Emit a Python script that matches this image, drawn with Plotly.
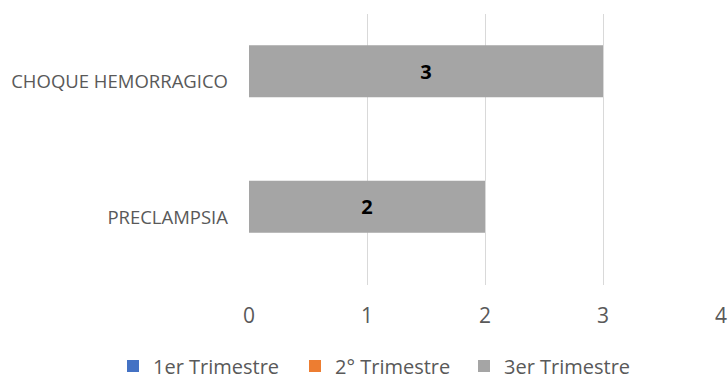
import plotly.graph_objects as go

categories = ["PRECLAMPSIA", "CHOQUE HEMORRAGICO"]
series_names = ["1er Trimestre", "2° Trimestre", "3er Trimestre"]
trim1 = [0, 0]
trim2 = [0, 0]
trim3 = [2, 3]
colors = ["#4472C4", "#ED7D31", "#A5A5A5"]
x_ticks = [0, 1, 2, 3, 4]

FONT = "Open Sans, sans-serif"
legend_ids = ["legend", "legend2", "legend3"]
legend_left_px = [113, 295, 464]

fig = go.Figure()
for name, vals, col, lid in zip(series_names, [trim1, trim2, trim3], colors, legend_ids):
    show_text = name == "3er Trimestre"
    fig.add_trace(go.Bar(
        y=categories, x=vals, name=name, orientation="h",
        marker=dict(color=col, line=dict(width=0)),
        width=0.384, offset=-0.1145,
        text=[str(v) for v in vals] if show_text else None,
        textposition="inside" if show_text else None,
        insidetextanchor="middle",
        textfont=dict(family=FONT, size=20, color="black", weight="bold"),
        hoverinfo="skip", legend=lid,
    ))

legend_common = dict(orientation="h", xref="container", yref="container",
                     xanchor="left", y=1 - 366 / 379, yanchor="middle",
                     font=dict(family=FONT, size=20, color="#595959"),
                     itemwidth=30, bgcolor="rgba(0,0,0,0)")

fig.update_layout(
    width=728, height=379,
    margin=dict(l=249, r=7, t=14, b=94),
    paper_bgcolor="white", plot_bgcolor="white",
    barmode="overlay",
    font=dict(family=FONT, color="#595959", size=19),
    xaxis=dict(range=[0, 4], tickvals=x_ticks, showgrid=True, gridcolor="#D9D9D9",
               gridwidth=1, zeroline=False, showline=False, ticks="",
               automargin=False,
               tickfont=dict(size=21, color="#595959"), ticklabelstandoff=16),
    yaxis=dict(type="category", categoryorder="array", categoryarray=categories,
               range=[-0.5, 1.5], showgrid=False, zeroline=False, showline=False,
               automargin=False,
               ticks="", tickfont=dict(size=18.5, color="#595959"), ticklabelstandoff=20),
    legend=dict(legend_common, x=legend_left_px[0] / 728),
    legend2=dict(legend_common, x=legend_left_px[1] / 728),
    legend3=dict(legend_common, x=legend_left_px[2] / 728),
    showlegend=True,
)
fig.write_html("out.html")
